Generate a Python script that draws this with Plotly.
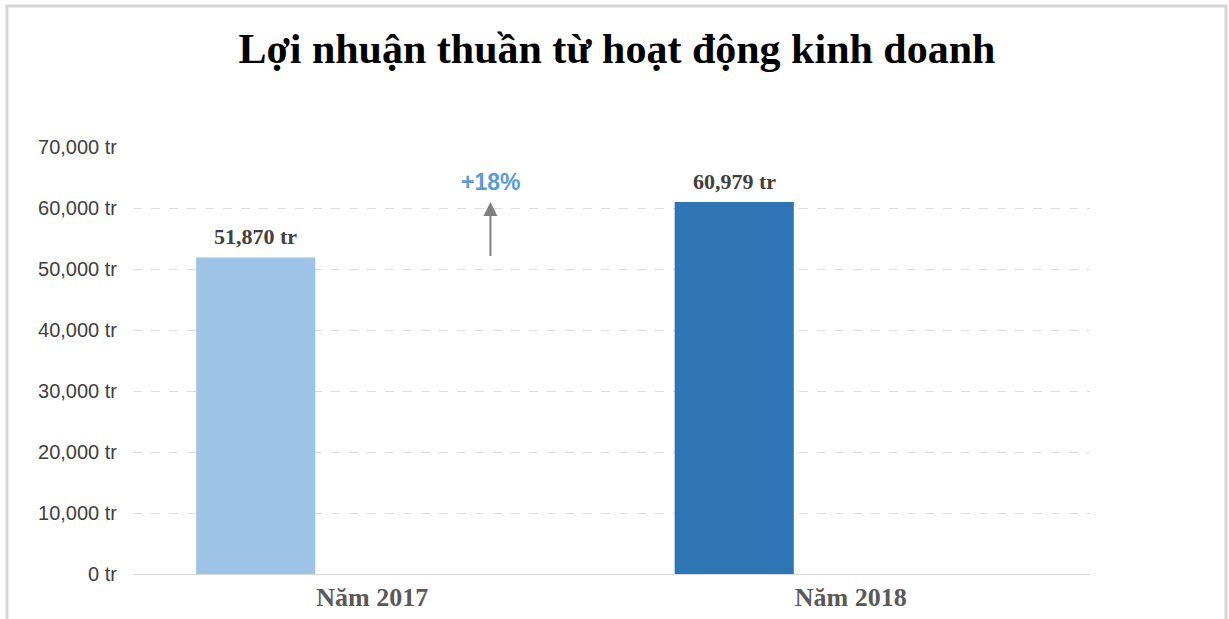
import plotly.graph_objects as go

categories = ["Năm 2017", "Năm 2018"]
values = [51870, 60979]
bar_colors = ["#9dc3e6", "#2e75b6"]
tick_vals = [0, 10000, 20000, 30000, 40000, 50000, 60000, 70000]
tick_text = [f"{v:,} tr" for v in tick_vals]
title_text = "Lợi nhuận thuần từ hoạt động kinh doanh"

growth = values[1] / values[0] - 1
growth_text = f"+{growth*100:.0f}%"

W, H = 1229, 619
ml, mr, mt, mb = 133, 139, 147, 45
pw, ph = W - ml - mr, H - mt - mb

BAR_W, BAR_OFF = 0.249, -0.368
bar_center = BAR_OFF + BAR_W / 2
arrow_x = 0.247


def px_to_paper_x(px):
    return (px - ml) / pw


def px_to_paper_y(py):
    return (H - mb - py) / ph


fig = go.Figure()
fig.add_trace(go.Bar(
    x=categories, y=values,
    marker=dict(color=bar_colors, line=dict(width=0)),
    width=BAR_W, offset=BAR_OFF,
    hoverinfo="skip",
))

# data labels above bars
for i, v in enumerate(values):
    fig.add_annotation(
        x=i + bar_center, y=v, xref="x", yref="y",
        text=f"<b>{v:,} tr</b>", showarrow=False,
        yanchor="middle", yshift=21,
        font=dict(family="Liberation Serif", size=22, color="#404040"),
    )

# growth arrow from 2017 value to 2018 value
fig.add_annotation(
    x=arrow_x, y=values[1], ax=arrow_x, ay=values[0],
    xref="x", yref="y", axref="x", ayref="y",
    showarrow=True, arrowhead=2, arrowsize=1.4, arrowwidth=2,
    arrowcolor="#7f7f7f", text="",
)
fig.add_annotation(
    x=arrow_x, y=values[1], xref="x", yref="y",
    text=f"<b>{growth_text}</b>", showarrow=False,
    yanchor="middle", yshift=20,
    font=dict(family="Liberation Sans", size=23, color="#5b9bd5"),
)

# outer frame
fig.add_shape(type="rect", xref="paper", yref="paper",
              x0=px_to_paper_x(7), x1=px_to_paper_x(1226),
              y0=px_to_paper_y(640), y1=px_to_paper_y(6),
              line=dict(color="#d6d6d6", width=3), fillcolor="rgba(0,0,0,0)",
              layer="below")

fig.update_layout(
    width=W, height=H,
    margin=dict(l=ml, r=mr, t=mt, b=mb),
    paper_bgcolor="white", plot_bgcolor="white",
    showlegend=False,
    title=dict(text=f"<b>{title_text}</b>", x=0.502, xanchor="center",
               y=1 - 48 / H, yanchor="middle",
               font=dict(family="Liberation Serif", size=42, color="#000000")),
    xaxis=dict(
        type="category", range=[-0.5, 1.5], automargin=False,
        showline=True, linecolor="#d9d9d9", linewidth=1,
        showgrid=False, ticks="",
        tickfont=dict(family="Liberation Serif", size=26, color="#595959"),
        tickprefix="<b>", ticksuffix="</b>",
        ticklabelstandoff=0,
    ),
    yaxis=dict(
        range=[0, 70000], tickvals=tick_vals, ticktext=tick_text,
        automargin=False,
        showgrid=True, gridcolor="#dedede", griddash="dash", gridwidth=1,
        zeroline=False, showline=False, ticks="",
        tickfont=dict(family="Liberation Sans", size=20, color="#404040"),
        ticklabelstandoff=15,
    ),
)

fig.write_html("out.html", config={"displayModeBar": False},
               post_script="document.body.style.margin='0px';")
